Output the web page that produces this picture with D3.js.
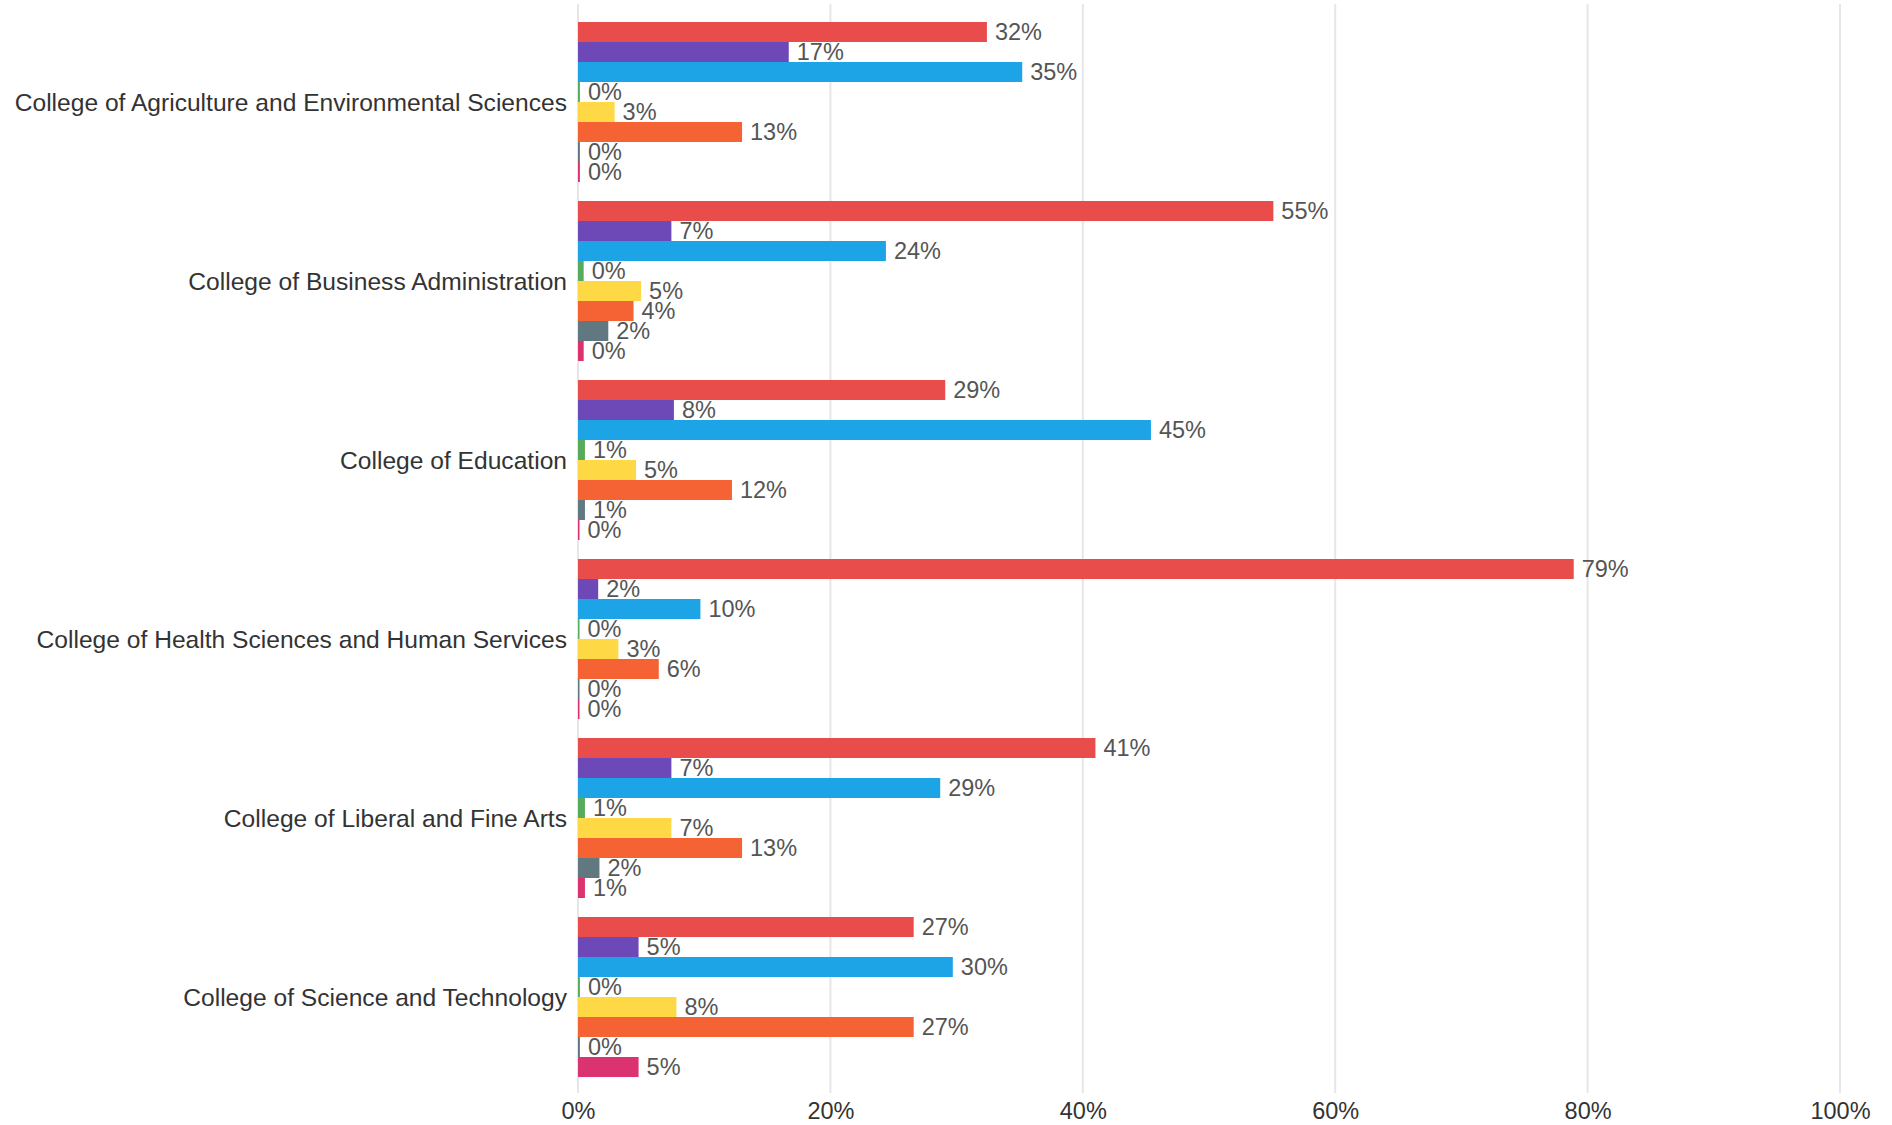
<!DOCTYPE html>
<html>
<head>
<meta charset="utf-8">
<script src="https://cdn.jsdelivr.net/npm/d3@7"></script>
<style>
	body { margin: 0; background: #fff; }
	svg text { font-family: "Liberation Sans", Arial, Helvetica, sans-serif; }
</style>
</head>
<body>
<div id="chart"></div>
<script>
// colleges, top to bottom
var colleges = [
	"College of Agriculture and Environmental Sciences",
	"College of Business Administration",
	"College of Education",
	"College of Health Sciences and Human Services",
	"College of Liberal and Fine Arts",
	"College of Science and Technology"
];

// share of each college, in percent
var redValues    = [32.4, 55.1, 29.1, 78.9, 41.0, 26.6];
var purpleValues = [16.7, 7.4, 7.6, 1.6, 7.4, 4.8];
var blueValues   = [35.2, 24.4, 45.4, 9.7, 28.7, 29.7];
var greenValues  = [0.15, 0.45, 0.55, 0.12, 0.55, 0.15];
var yellowValues = [2.9, 5.0, 4.6, 3.2, 7.4, 7.8];
var orangeValues = [13.0, 4.4, 12.2, 6.4, 13.0, 26.6];
var greyValues   = [0.15, 2.4, 0.55, 0.12, 1.7, 0.15];
var pinkValues   = [0.15, 0.45, 0.12, 0.12, 0.55, 4.8];

var seriesNames = ["red", "purple", "blue", "green", "yellow", "orange", "grey", "pink"];
var seriesValues = [redValues, purpleValues, blueValues, greenValues, yellowValues, orangeValues, greyValues, pinkValues];
var seriesColors = ["#E84C4B", "#6D48B7", "#1DA4E6", "#57AB5C", "#FED945", "#F56335", "#617880", "#DA3370"];

var xTicks = [0, 20, 40, 60, 80, 100];

var chart = {
	width: 1892,
	height: 1125,
	left: 578,
	right: 1840,
	top: 12.5,
	bottom: 1086.5
};

var svg = d3.select("#chart")
	.append("svg")
	.attr("width", chart.width)
	.attr("height", chart.height)
	.style("background", "#fff");

var x = d3.scaleLinear().domain([0, 100]).range([chart.left, chart.right]);

var y = d3.scaleBand()
	.domain(colleges)
	.range([chart.top, chart.bottom])
	.paddingInner(19 / 179)
	.paddingOuter(19 / 179 / 2);

var ySeries = d3.scaleBand()
	.domain(seriesNames)
	.range([0, y.bandwidth()]);

var color = d3.scaleOrdinal().domain(seriesNames).range(seriesColors);

// grid lines
svg.append("g")
	.attr("class", "grid")
	.selectAll("line")
	.data(xTicks)
	.enter()
	.append("line")
	.attr("x1", function(d) { return x(d); })
	.attr("x2", function(d) { return x(d); })
	.attr("y1", 4)
	.attr("y2", 1093)
	.attr("stroke", "#e6e6e6")
	.attr("stroke-width", 2);

var rows = [];
colleges.forEach(function(c, i) {
	seriesNames.forEach(function(s, j) {
		rows.push({ college: c, series: s, value: seriesValues[j][i] });
	});
});

var groups = svg.append("g").attr("class", "bars");

groups.selectAll("rect")
	.data(rows)
	.enter()
	.append("rect")
	.attr("x", x(0))
	.attr("y", function(d) { return y(d.college) + ySeries(d.series); })
	.attr("width", function(d) { return x(d.value) - x(0); })
	.attr("height", ySeries.bandwidth())
	.attr("fill", function(d) { return color(d.series); });

groups.selectAll("text")
	.data(rows)
	.enter()
	.append("text")
	.attr("x", function(d) { return x(d.value) + 8; })
	.attr("y", function(d) { return y(d.college) + ySeries(d.series) + ySeries.bandwidth() / 2; })
	.attr("dy", "0.36em")
	.style("font-size", "23.5px")
	.style("fill", "#555")
	.text(function(d) { return Math.round(d.value) + "%"; });

// category labels
svg.append("g")
	.selectAll("text")
	.data(colleges)
	.enter()
	.append("text")
	.attr("x", chart.left - 11)
	.attr("y", function(d) { return y(d) + y.bandwidth() / 2; })
	.attr("dy", "0.36em")
	.attr("text-anchor", "end")
	.style("font-size", "24.6px")
	.style("fill", "#333")
	.text(function(d) { return d; });

// x axis
var xAxis = d3.axisBottom(x)
	.tickValues(xTicks)
	.tickSize(0)
	.tickPadding(0)
	.tickFormat(function(d) { return d + "%"; });

var axisG = svg.append("g")
	.attr("transform", "translate(0,1111)")
	.call(xAxis);
axisG.select(".domain").remove();
axisG.selectAll("text")
	.attr("dy", "0.36em")
	.attr("y", 0)
	.style("font-size", "23.5px")
	.style("fill", "#333")
	.style("font-family", "'Liberation Sans', Arial, Helvetica, sans-serif");
</script>
</body>
</html>
